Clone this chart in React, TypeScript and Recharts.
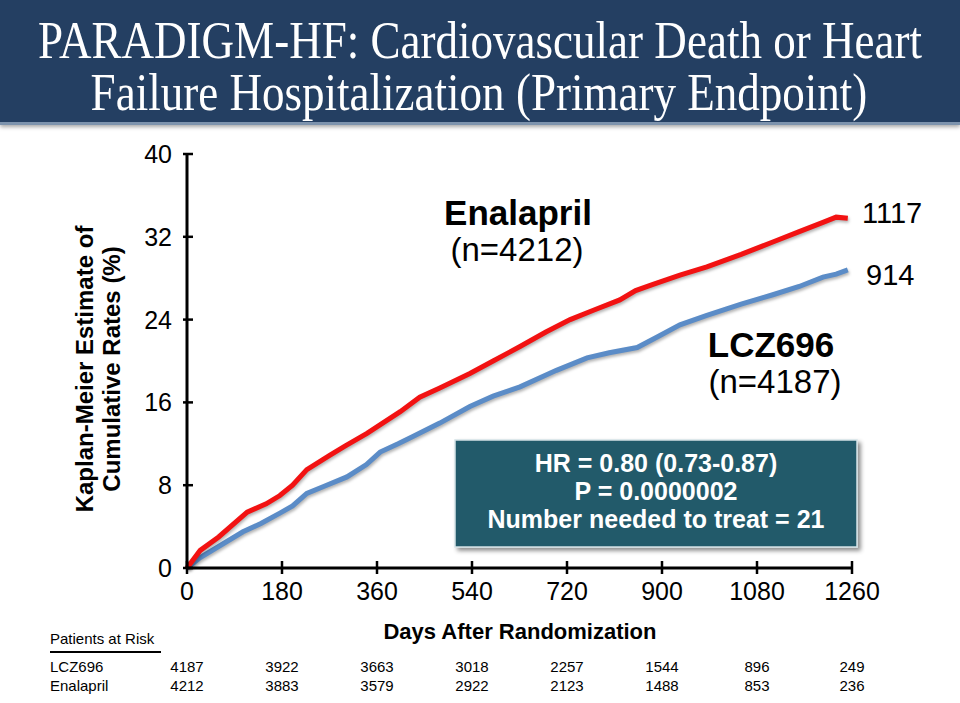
import { LineChart, Line, XAxis, YAxis } from "recharts";

// Kaplan-Meier readings (days, cumulative %)
const enalaprilDays = [0, 25, 60, 114, 150, 176, 200, 227, 271, 300, 341, 404, 441, 479, 536, 580, 631, 680, 726, 770, 820, 850, 883, 934, 985, 1050, 1110, 1160, 1205, 1230, 1252];
const enalaprilRates = [0, 1.7, 3.0, 5.4, 6.2, 7.0, 8.0, 9.5, 10.9, 11.8, 13.0, 15.1, 16.5, 17.4, 18.8, 20.0, 21.4, 22.8, 24.0, 24.9, 25.9, 26.8, 27.4, 28.3, 29.1, 30.3, 31.5, 32.5, 33.4, 33.9, 33.8];

const lczDays = [0, 25, 106, 140, 176, 200, 227, 260, 303, 340, 366, 400, 428, 479, 536, 580, 631, 700, 758, 800, 853, 890, 934, 985, 1050, 1110, 1160, 1205, 1230, 1252];
const lczRates = [0, 1.0, 3.5, 4.3, 5.3, 6.0, 7.2, 7.9, 8.8, 10.0, 11.2, 12.0, 12.7, 14.0, 15.6, 16.6, 17.5, 19.1, 20.3, 20.8, 21.3, 22.3, 23.5, 24.4, 25.5, 26.4, 27.2, 28.1, 28.4, 28.8];

const xTicks = [0, 180, 360, 540, 720, 900, 1080, 1260];
const yTicks = [0, 8, 16, 24, 32, 40];

const lczAtRisk = [4187, 3922, 3663, 3018, 2257, 1544, 896, 249];
const enalaprilAtRisk = [4212, 3883, 3579, 2922, 2123, 1488, 853, 236];

const enalaprilData = enalaprilDays.map((d, i) => ({ day: d, rate: enalaprilRates[i] }));
const lczData = lczDays.map((d, i) => ({ day: d, rate: lczRates[i] }));

const SANS = "'Liberation Sans', Arial, sans-serif";
const SERIF = "'Liberation Serif', 'Times New Roman', serif";
const LINE_SHADOW = { filter: "drop-shadow(1px 2px 1.5px rgba(0,0,0,0.3))" };

function YTick(props: any) {
  const { x, y, payload } = props;
  return (
    <g>
      <line x1={x - 4} x2={x + 6} y1={y} y2={y} stroke="#000" strokeWidth={2.5} />
      <text x={x - 15} y={y} textAnchor="end" dominantBaseline="central" fontSize={25} fill="#000" fontFamily={SANS}>
        {payload.value}
      </text>
    </g>
  );
}

function XTick(props: any) {
  const { x, y, payload, index } = props;
  return (
    <g>
      <line x1={x} x2={x} y1={y - 7} y2={y + 6} stroke="#000" strokeWidth={2.5} />
      <text x={x} y={y + 32} textAnchor="middle" fontSize={25} fill="#000" fontFamily={SANS}>
        {payload.value}
      </text>
      <text x={x} y={y + 104} textAnchor="middle" fontSize={15} fill="#000" fontFamily={SANS}>
        {lczAtRisk[index]}
      </text>
      <text x={x} y={y + 123} textAnchor="middle" fontSize={15} fill="#000" fontFamily={SANS}>
        {enalaprilAtRisk[index]}
      </text>
    </g>
  );
}

export default function App() {
  return (
    <div
      style={{
        position: "absolute",
        left: 0,
        top: 0,
        width: 960,
        height: 703,
        background: "#fff",
        overflow: "hidden",
        fontFamily: SANS,
      }}
    >
      <div
        style={{
          position: "absolute",
          left: 0,
          top: 0,
          width: 960,
          height: 122,
          background: "#243f62",
          borderBottom: "3px solid #7d93ad",
          boxShadow: "0 2px 4px rgba(0,0,0,0.35)",
        }}
      />

      <div style={{ position: "absolute", left: 0, top: 0 }}>
        <LineChart width={960} height={703} margin={{ top: 154, right: 108, bottom: 105, left: 127 }}>
          <XAxis
            type="number"
            dataKey="day"
            domain={[0, 1260]}
            ticks={xTicks}
            interval={0}
            height={30}
            tickSize={0}
            tickMargin={0}
            tickLine={false}
            axisLine={{ stroke: "#000", strokeWidth: 3 }}
            tick={XTick}
            allowDuplicatedCategory={false}
          />
          <YAxis
            type="number"
            domain={[0, 40]}
            ticks={yTicks}
            interval={0}
            width={60}
            tickSize={0}
            tickMargin={0}
            tickLine={false}
            axisLine={{ stroke: "#000", strokeWidth: 3 }}
            tick={YTick}
          />
          <Line
            data={lczData}
            dataKey="rate"
            type="linear"
            stroke="#5b8cc7"
            strokeWidth={5}
            dot={false}
            style={LINE_SHADOW}
            isAnimationActive={false}
          />
          <Line
            data={enalaprilData}
            dataKey="rate"
            type="linear"
            stroke="#f21212"
            strokeWidth={5}
            dot={false}
            style={LINE_SHADOW}
            isAnimationActive={false}
          />
        </LineChart>
      </div>

      <svg
        width={960}
        height={703}
        style={{ position: "absolute", left: 0, top: 0, pointerEvents: "none" }}
      >
        <defs>
          <filter id="boxShadow" x="-10%" y="-10%" width="130%" height="140%">
            <feDropShadow dx="3" dy="3" stdDeviation="2" floodOpacity="0.45" />
          </filter>
        </defs>

        {/* title */}
        <g fontFamily={SERIF} fontSize={53} fill="#fff" textAnchor="middle">
          <text x={0} y={58} transform="translate(480,0) scale(0.85,1)">
            PARADIGM-HF: Cardiovascular Death or Heart
          </text>
          <text x={0} y={110} transform="translate(479,0) scale(0.85,1)">
            Failure Hospitalization (Primary Endpoint)
          </text>
        </g>

        {/* y axis title */}
        <g fontFamily={SANS} fontSize={24} fontWeight="bold" fill="#000" textAnchor="middle">
          <text transform="translate(93,369) rotate(-90)">Kaplan-Meier Estimate of</text>
          <text transform="translate(120,369) rotate(-90)">Cumulative Rates (%)</text>
        </g>

        {/* x axis title */}
        <text x={520} y={639} textAnchor="middle" fontFamily={SANS} fontSize={22} fontWeight="bold" fill="#000">
          Days After Randomization
        </text>

        {/* patients at risk */}
        <text x={50} y={644} fontFamily={SANS} fontSize={15} fill="#000">
          Patients at Risk
        </text>
        <line x1={50} x2={161} y1={652} y2={652} stroke="#000" strokeWidth={2} />
        <text x={50} y={672} fontFamily={SANS} fontSize={15} fill="#000">
          LCZ696
        </text>
        <text x={50} y={691} fontFamily={SANS} fontSize={15} fill="#000">
          Enalapril
        </text>

        {/* series annotations */}
        <g fontFamily={SANS} fill="#000" textAnchor="middle">
          <text x={518} y={225} fontSize={35} fontWeight="bold">Enalapril</text>
          <text x={517} y={261} fontSize={33}>(n=4212)</text>
          <text x={771} y={357} fontSize={35} fontWeight="bold">LCZ696</text>
          <text x={775} y={393} fontSize={33}>(n=4187)</text>
        </g>
        <g fontFamily={SANS} fill="#000" fontSize={29}>
          <text x={862} y={223}>1117</text>
          <text x={866} y={285}>914</text>
        </g>

        {/* statistics box */}
        <rect x={455} y={440} width={402} height={107} fill="#215a6a" stroke="#d5e2e6" strokeWidth={1.5} filter="url(#boxShadow)" />
        <g fontFamily={SANS} fontSize={25} fontWeight="bold" fill="#fff" textAnchor="middle">
          <text x={656} y={472}>HR = 0.80 (0.73-0.87)</text>
          <text x={656} y={500}>P = 0.0000002</text>
          <text x={656} y={528}>Number needed to treat = 21</text>
        </g>
      </svg>
    </div>
  );
}
